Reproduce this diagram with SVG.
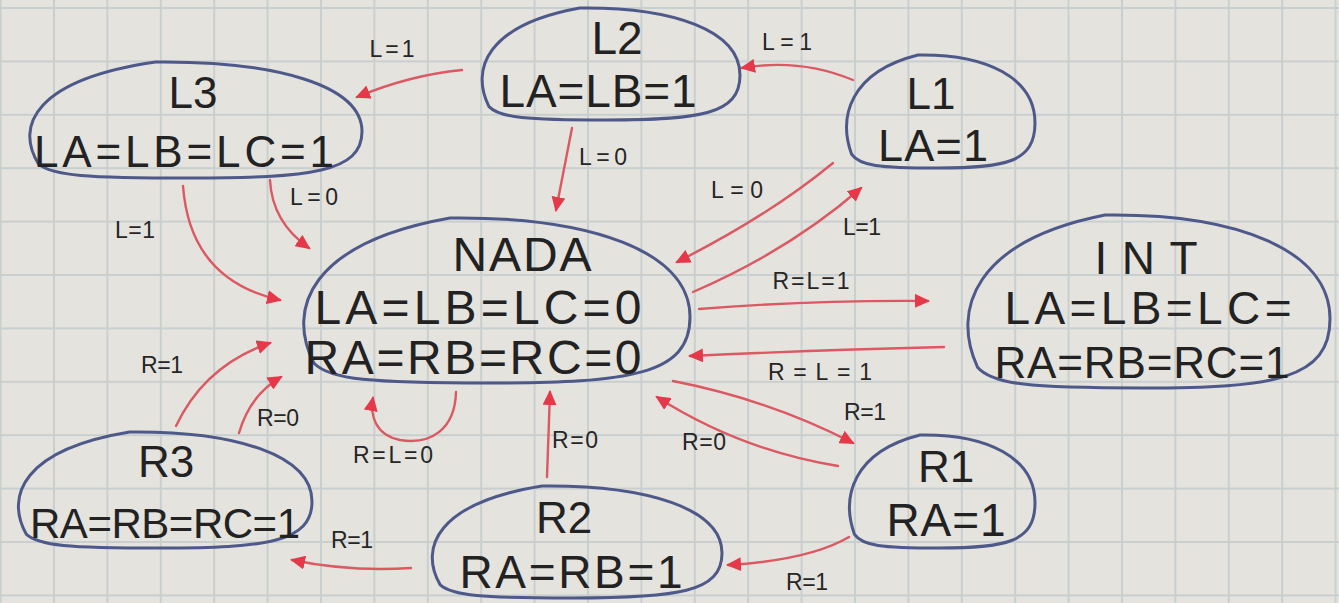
<svg xmlns="http://www.w3.org/2000/svg" width="1339" height="603" viewBox="0 0 1339 603">
<style>
.node path{fill:none;stroke:#4e5989;stroke-width:3;stroke-linejoin:round}
.node text{font-family:"Liberation Sans",Arial,sans-serif;fill:#222;text-anchor:middle}
.edges path{fill:none;stroke:#dc5862;stroke-width:2.4;stroke-linecap:round}
.lbl{font-family:"Liberation Sans",Arial,sans-serif;font-size:23px;fill:#262626;text-anchor:middle}
</style>
<defs>
<pattern id="grid" width="53.4" height="53.4" patternUnits="userSpaceOnUse" x="-0.4" y="7">
<path d="M0 1 H53.4 M1 0 V53.4" stroke="#c9cfcf" stroke-width="2" fill="none"/>
</pattern>
<marker id="ah" markerWidth="16" markerHeight="14" refX="13" refY="7" orient="auto" markerUnits="userSpaceOnUse">
<path d="M0,0 L15,7 L0,14 z" fill="#e5394a"/>
</marker>
</defs>
<rect width="1339" height="603" fill="#e4e3de"/>
<rect width="1339" height="603" fill="url(#grid)"/>

<g class="edges">
<path d="M462,70 Q410,75 357,97" marker-end="url(#ah)"/>
<path d="M853,80 Q800,58 742,68" marker-end="url(#ah)"/>
<path d="M572,128 L556,210" marker-end="url(#ah)"/>
<path d="M270,180 Q272,222 309,248" marker-end="url(#ah)"/>
<path d="M183,186 Q190,280 280,300" marker-end="url(#ah)"/>
<path d="M833,163 Q770,215 677,262" marker-end="url(#ah)"/>
<path d="M693,292 Q790,250 861,188" marker-end="url(#ah)"/>
<path d="M699,309 Q810,300 928,301" marker-end="url(#ah)"/>
<path d="M944,347 Q820,350 690,356" marker-end="url(#ah)"/>
<path d="M673,381 Q770,400 853,443" marker-end="url(#ah)"/>
<path d="M838,466 Q740,450 657,397" marker-end="url(#ah)"/>
<path d="M849,537 Q810,560 728,565" marker-end="url(#ah)"/>
<path d="M547,477 L550,392" marker-end="url(#ah)"/>
<path d="M456,392 C455,430 430,445 400,440 C375,435 370,415 373,398" marker-end="url(#ah)"/>
<path d="M176,426 Q205,365 270,343" marker-end="url(#ah)"/>
<path d="M239,433 Q250,395 281,377" marker-end="url(#ah)"/>
<path d="M411,568 Q350,572 292,560" marker-end="url(#ah)"/>
</g>

<g id="edge-labels">
<text class="lbl" x="392" y="57" textLength="45" lengthAdjust="spacing">L=1</text>
<text class="lbl" x="787" y="50" textLength="50" lengthAdjust="spacing">L=1</text>
<text class="lbl" x="603" y="165" textLength="48" lengthAdjust="spacing">L=0</text>
<text class="lbl" x="314" y="205" textLength="48" lengthAdjust="spacing">L=0</text>
<text class="lbl" x="135" y="238" textLength="40" lengthAdjust="spacing">L=1</text>
<text class="lbl" x="737" y="198" textLength="52" lengthAdjust="spacing">L=0</text>
<text class="lbl" x="862" y="235" textLength="38" lengthAdjust="spacing">L=1</text>
<text class="lbl" x="811" y="289" textLength="77" lengthAdjust="spacing">R=L=1</text>
<text class="lbl" x="820" y="380" font-size="25" textLength="104" lengthAdjust="spacing">R=L=1</text>
<text class="lbl" x="865" y="420" textLength="42" lengthAdjust="spacing">R=1</text>
<text class="lbl" x="704" y="450" textLength="44" lengthAdjust="spacing">R=0</text>
<text class="lbl" x="807" y="590" textLength="42" lengthAdjust="spacing">R=1</text>
<text class="lbl" x="575" y="448" textLength="46" lengthAdjust="spacing">R=0</text>
<text class="lbl" x="393" y="463" textLength="80" lengthAdjust="spacing">R=L=0</text>
<text class="lbl" x="162" y="373" textLength="42" lengthAdjust="spacing">R=1</text>
<text class="lbl" x="278" y="426" textLength="42" lengthAdjust="spacing">R=0</text>
<text class="lbl" x="352" y="548" textLength="42" lengthAdjust="spacing">R=1</text>
</g>

<g id="L3" class="node">
<path d="M38.6,164.1 C14.6,125.8 35.2,79.4 155.6,62 C276,60.8 362,85.2 362,131.6 C362,172.2 310.4,178 190,178 C86.8,178 52.4,175.7 38.6,164.1 Z"/>
<text x="193" y="108" font-size="44">L3</text>
<text x="184" y="167" font-size="44" textLength="300" lengthAdjust="spacing">LA=LB=LC=1</text>
</g>
<g id="L2" class="node">
<path d="M489,106.6 C470.3,69.6 486.4,24.8 579.8,8 C673.3,6.9 740,30.4 740,75.2 C740,114.4 700,120 606.5,120 C526.4,120 499.7,117.8 489,106.6 Z"/>
<text x="617" y="54" font-size="46">L2</text>
<text x="598" y="107" font-size="46" textLength="197" lengthAdjust="spacing">LA=LB=1</text>
</g>
<g id="L1" class="node">
<path d="M851.7,154.4 C838,117.2 849.8,72 918,55 C986.3,53.9 1035,77.6 1035,122.8 C1035,162.4 1005.8,168 937.5,168 C879,168 859.5,165.7 851.7,154.4 Z"/>
<text x="931" y="109" font-size="44">L1</text>
<text x="933" y="161" font-size="45" textLength="110" lengthAdjust="spacing">LA=1</text>
</g>
<g id="NADA" class="node">
<path d="M314,363.2 C286,308.8 310,242.8 450,218 C590,216.4 690,251 690,317 C690,374.8 630,383 490,383 C370,383 330,379.7 314,363.2 Z"/>
<text x="522" y="271" font-size="48" textLength="139" lengthAdjust="spacing">NADA</text>
<text x="478" y="324" font-size="48" textLength="327" lengthAdjust="spacing">LA=LB=LC=0</text>
<text x="473" y="374" font-size="48" textLength="337" lengthAdjust="spacing">RA=RB=RC=0</text>
</g>
<g id="INT" class="node">
<path d="M977.5,367.2 C951.3,310.2 973.8,241 1105,215 C1236.3,213.3 1330,249.6 1330,318.8 C1330,379.4 1274,388 1142.5,388 C1030,388 992.5,384.5 977.5,367.2 Z"/>
<text x="1146" y="274" font-size="46" textLength="103" lengthAdjust="spacing">INT</text>
<text x="1148" y="324" font-size="46" textLength="287" lengthAdjust="spacing">LA=LB=LC=</text>
<text x="1142" y="378" font-size="44" textLength="295" lengthAdjust="spacing">RA=RB=RC=1</text>
</g>
<g id="R3" class="node">
<path d="M26.2,534.1 C5,495.8 23.2,449.4 129.6,432 C236,430.8 312,455.2 312,501.6 C312,542.2 266.4,548 160,548 C68.8,548 38.4,545.7 26.2,534.1 Z"/>
<text x="166" y="477" font-size="44">R3</text>
<text x="165" y="538" font-size="42" textLength="270" lengthAdjust="spacing">RA=RB=RC=1</text>
</g>
<g id="R2" class="node">
<path d="M440,584.6 C419,547.6 437,502.8 542,486 C647,484.9 722,508.4 722,553.2 C722,592.4 677,598 572,598 C482,598 452,595.8 440,584.6 Z"/>
<text x="564" y="533" font-size="44">R2</text>
<text x="571" y="588" font-size="46" textLength="223" lengthAdjust="spacing">RA=RB=1</text>
</g>
<g id="R1" class="node">
<path d="M854.5,534.4 C841.1,497.2 852.6,452 920,435 C987.2,433.9 1035,457.6 1035,502.8 C1035,542.4 1006.2,548 939,548 C881.4,548 862.2,545.7 854.5,534.4 Z"/>
<text x="946" y="482" font-size="44">R1</text>
<text x="946" y="536" font-size="46" textLength="119" lengthAdjust="spacing">RA=1</text>
</g>
</svg>
